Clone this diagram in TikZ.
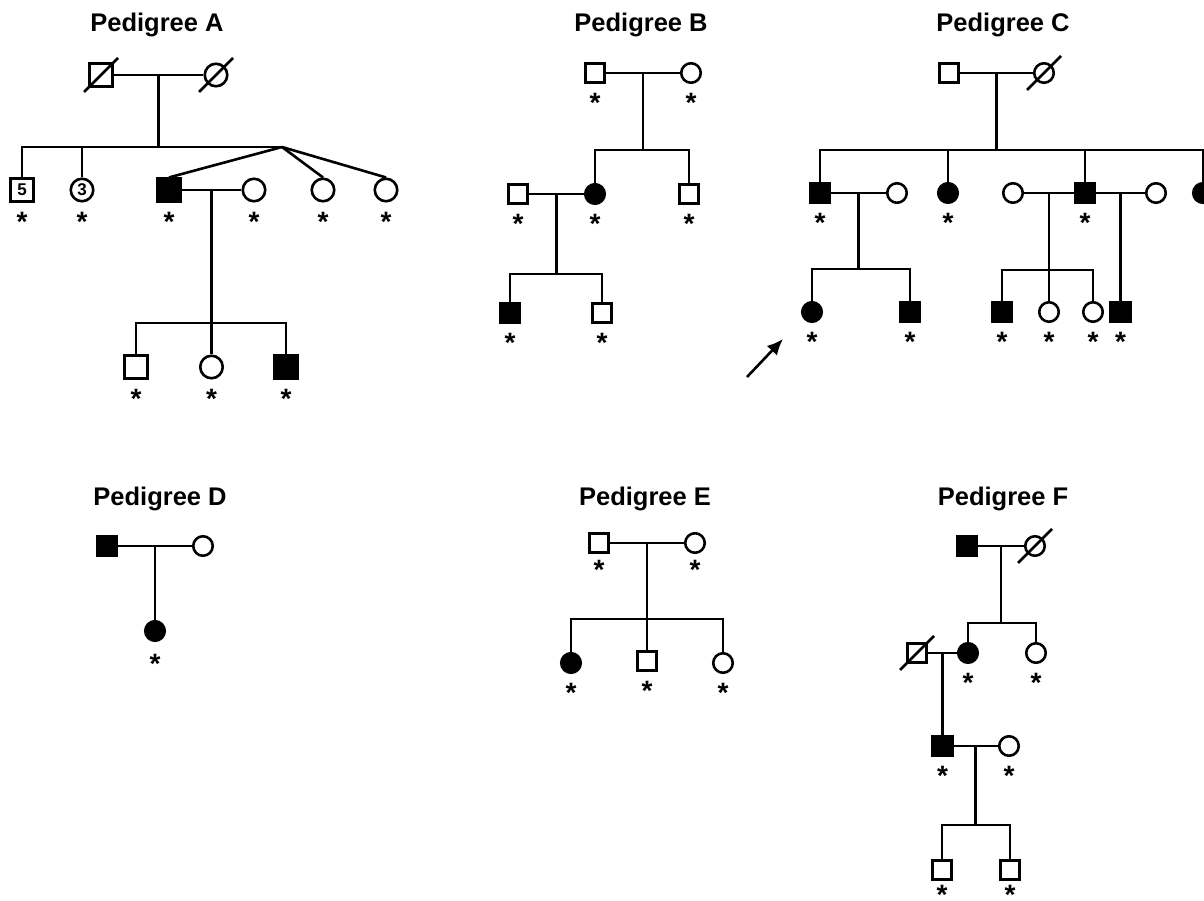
\documentclass[tikz,border=0pt]{standalone}
\usepackage{fontspec}
\setmainfont{Liberation Sans}
\usetikzlibrary{positioning, calc, arrows.meta}

\begin{document}
\begin{tikzpicture}[
    x=1pt, y=-1pt, line width=2.6pt,
    title/.style={anchor=base, font=\bfseries\fontsize{25.5}{30}\selectfont},
    male/.style={rectangle, draw, fill=white, minimum size=19.5pt, inner sep=0pt, font=\bfseries\fontsize{17}{17}\selectfont},
    female/.style={circle, draw, fill=white, minimum size=19.5pt, inner sep=0pt, font=\bfseries\fontsize{17}{17}\selectfont},
    aff/.style={fill=black},
    big/.style={minimum size=22.5pt},
    ast/.style={inner sep=0pt, font=\bfseries\fontsize{28}{28}\selectfont}
    ]
    \useasboundingbox (0,0) rectangle (1204,901);

    \node [title] (t1) at (157,32) {Pedigree A};
    \node [title] (t2) at (641,32) {Pedigree B};
    \node [title] (t3) at (1003,32) {Pedigree C};
    \node [title] (t4) at (160,505) {Pedigree D};
    \node [title] (t5) at (645,505) {Pedigree E};
    \node [title] (t6) at (1003,505) {Pedigree F};

    \node [male, big] (a1) at (101,75) {};
    \node [female, big] (a2) at (216,75) {};
    \node [male, big] (a3) at (22,190) {5};
    \node [female, big] (a4) at (82,190) {3};
    \node [male, big, aff] (a5) at (169,190) {};
    \node [female, big] (a6) at (254,190) {};
    \node [female, big] (a7) at (323,190) {};
    \node [female, big] (a8) at (386,190) {};
    \node [male, big] (a9) at (136,367) {};
    \node [female, big] (a10) at (211.5,367) {};
    \node [male, big, aff] (a11) at (286,367) {};
    \coordinate (tw) at (282,147);
    \coordinate (m1) at ($(a1)!0.5!(a2)$);
    \coordinate (m2) at ($(a5)!0.5!(a6)$);
    \draw (a1) ++(-17,17) -- ++(34,-34);
    \draw (a2) ++(-17,17) -- ++(34,-34);
    \draw (a1) -- (a2);
    \draw (m1) -- (m1 |- tw);
    \draw (a3) |- (tw);
    \draw (a4) -- (a4 |- tw);
    \draw (tw) -- (a5.north);
    \draw (tw) -- (a7.north);
    \draw (tw) -- (a8.north);
    \draw (a5) -- (a6);
    \draw (m2) -- (a10);
    \path (m2) ++(0,133) coordinate (s1);
    \draw (a9) |- (s1) -| (a11);

    \node [male] (b1) at (595,73) {};
    \node [female] (b2) at (691,73) {};
    \node [female, aff] (b3) at (595,194) {};
    \node [male] (b4) at (689,194) {};
    \node [male] (b5) at (518,194) {};
    \node [male, aff] (b6) at (510,313) {};
    \node [male] (b7) at (602,313) {};
    \coordinate (m3) at ($(b1)!0.5!(b2)$);
    \coordinate (m4) at ($(b5)!0.5!(b3)$);
    \draw (b1) -- (b2);
    \draw (m3) -- ++(0,77) coordinate (s2);
    \draw (b3) |- (s2) -| (b4);
    \draw (b5) -- (b3);
    \draw (m4) -- ++(0,80) coordinate (s3);
    \draw (b6) |- (s3) -| (b7);

    \node [male] (c1) at (949,73) {};
    \node [female] (c2) at (1044,73) {};
    \node [male, aff] (c3) at (820,193) {};
    \node [female] (c4) at (897,193) {};
    \node [female, aff] (c5) at (948,193) {};
    \node [female] (c6) at (1013,193) {};
    \node [male, aff] (c7) at (1085,193) {};
    \node [female] (c8) at (1156,193) {};
    \node [female, aff] (c9) at (1203,193) {};
    \node [female, aff] (c10) at (812,312) {};
    \node [male, aff] (c11) at (910,312) {};
    \node [male, aff] (c12) at (1002,312) {};
    \node [female] (c13) at (1049,312) {};
    \node [female] (c14) at (1093,312) {};
    \node [male, aff] (c15) at (1120.5,312) {};
    \coordinate (m5) at ($(c1)!0.5!(c2)$);
    \coordinate (m6) at ($(c3)!0.5!(c4)$);
    \coordinate (m7) at ($(c6)!0.5!(c7)$);
    \coordinate (m8) at ($(c7)!0.5!(c8)$);
    \draw (c2) ++(-17,17) -- ++(34,-34);
    \draw (c1) -- (c2);
    \draw (m5) -- ++(0,77) coordinate (s4);
    \draw (c3) |- (s4) -| (c9);
    \draw (c5) -- (c5 |- s4);
    \draw (c7) -- (c7 |- s4);
    \draw (c3) -- (c4);
    \draw (c6) -- (c7) -- (c8);
    \draw (m6) -- ++(0,76) coordinate (s5);
    \draw (c10) |- (s5) -| (c11);
    \draw (m7) -- ++(0,77) coordinate (s6);
    \draw (c12) |- (s6) -| (c14);
    \draw (s6) -- (c13);
    \draw (m8) -- (c15);
    \coordinate (p1) at (747,377);
    \coordinate (p2) at (783,339);
    \draw [-{Latex[length=16pt,width=14pt]}] (p1) -- (p2);

    \node [male, aff] (d1) at (107,546) {};
    \node [female] (d2) at (203,546) {};
    \node [female, aff] (d3) at (155,631) {};
    \coordinate (m9) at ($(d1)!0.5!(d2)$);
    \draw (d1) -- (d2);
    \draw (m9) -- (d3);

    \node [male] (e1) at (599,543) {};
    \node [female] (e2) at (695,543) {};
    \node [female, aff] (e3) at (571,663) {};
    \node [male] (e4) at (647,661) {};
    \node [female] (e5) at (723,663) {};
    \coordinate (m10) at ($(e1)!0.5!(e2)$);
    \draw (e1) -- (e2);
    \draw (m10) -- ++(0,76) coordinate (s7);
    \draw (e3) |- (s7) -| (e5);
    \draw (s7) -- (e4);

    \node [male, aff] (f1) at (967,546) {};
    \node [female] (f2) at (1035,546) {};
    \node [female, aff] (f3) at (968,653) {};
    \node [female] (f4) at (1036,653) {};
    \node [male] (f5) at (917,653) {};
    \node [male, aff] (f6) at (942.5,746) {};
    \node [female] (f7) at (1009,746) {};
    \node [male] (f8) at (942,870) {};
    \node [male] (f9) at (1010,870) {};
    \coordinate (m11) at ($(f1)!0.5!(f2)$);
    \coordinate (m12) at ($(f5)!0.5!(f3)$);
    \coordinate (m13) at ($(f6)!0.5!(f7)$);
    \draw (f2) ++(-17,17) -- ++(34,-34);
    \draw (f5) ++(-17,17) -- ++(34,-34);
    \draw (f1) -- (f2);
    \draw (m11) -- ++(0,77) coordinate (s8);
    \draw (f3) |- (s8) -| (f4);
    \draw (f5) -- (f3);
    \draw (m12) -- (f6);
    \draw (f6) -- (f7);
    \draw (m13) -- ++(0,79) coordinate (s9);
    \draw (f8) |- (s9) -| (f9);

    \node [ast, below=7pt of a3] (st1) {\raisebox{-0.42em}[0.3em][0pt]{*}};
    \node [ast, below=7pt of a4] (st2) {\raisebox{-0.42em}[0.3em][0pt]{*}};
    \node [ast, below=7pt of a5] (st3) {\raisebox{-0.42em}[0.3em][0pt]{*}};
    \node [ast, below=7pt of a6] (st4) {\raisebox{-0.42em}[0.3em][0pt]{*}};
    \node [ast, below=7pt of a7] (st5) {\raisebox{-0.42em}[0.3em][0pt]{*}};
    \node [ast, below=7pt of a8] (st6) {\raisebox{-0.42em}[0.3em][0pt]{*}};
    \node [ast, below=7pt of a9] (st7) {\raisebox{-0.42em}[0.3em][0pt]{*}};
    \node [ast, below=7pt of a10] (st8) {\raisebox{-0.42em}[0.3em][0pt]{*}};
    \node [ast, below=7pt of a11] (st9) {\raisebox{-0.42em}[0.3em][0pt]{*}};
    \node [ast, below=7pt of b1] (st10) {\raisebox{-0.42em}[0.3em][0pt]{*}};
    \node [ast, below=7pt of b2] (st11) {\raisebox{-0.42em}[0.3em][0pt]{*}};
    \node [ast, below=7pt of b3] (st12) {\raisebox{-0.42em}[0.3em][0pt]{*}};
    \node [ast, below=7pt of b4] (st13) {\raisebox{-0.42em}[0.3em][0pt]{*}};
    \node [ast, below=7pt of b5] (st14) {\raisebox{-0.42em}[0.3em][0pt]{*}};
    \node [ast, below=7pt of b6] (st15) {\raisebox{-0.42em}[0.3em][0pt]{*}};
    \node [ast, below=7pt of b7] (st16) {\raisebox{-0.42em}[0.3em][0pt]{*}};
    \node [ast, below=7pt of c3] (st17) {\raisebox{-0.42em}[0.3em][0pt]{*}};
    \node [ast, below=7pt of c5] (st18) {\raisebox{-0.42em}[0.3em][0pt]{*}};
    \node [ast, below=7pt of c7] (st19) {\raisebox{-0.42em}[0.3em][0pt]{*}};
    \node [ast, below=7pt of c10] (st20) {\raisebox{-0.42em}[0.3em][0pt]{*}};
    \node [ast, below=7pt of c11] (st21) {\raisebox{-0.42em}[0.3em][0pt]{*}};
    \node [ast, below=7pt of c12] (st22) {\raisebox{-0.42em}[0.3em][0pt]{*}};
    \node [ast, below=7pt of c13] (st23) {\raisebox{-0.42em}[0.3em][0pt]{*}};
    \node [ast, below=7pt of c14] (st24) {\raisebox{-0.42em}[0.3em][0pt]{*}};
    \node [ast, below=7pt of c15] (st25) {\raisebox{-0.42em}[0.3em][0pt]{*}};
    \node [ast, below=10pt of d3] (st26) {\raisebox{-0.42em}[0.3em][0pt]{*}};
    \node [ast, below=4pt of e1] (st27) {\raisebox{-0.42em}[0.3em][0pt]{*}};
    \node [ast, below=4pt of e2] (st28) {\raisebox{-0.42em}[0.3em][0pt]{*}};
    \node [ast, below=7pt of e3] (st29) {\raisebox{-0.42em}[0.3em][0pt]{*}};
    \node [ast, below=7pt of e4] (st30) {\raisebox{-0.42em}[0.3em][0pt]{*}};
    \node [ast, below=7pt of e5] (st31) {\raisebox{-0.42em}[0.3em][0pt]{*}};
    \node [ast, below=7pt of f3] (st32) {\raisebox{-0.42em}[0.3em][0pt]{*}};
    \node [ast, below=7pt of f4] (st33) {\raisebox{-0.42em}[0.3em][0pt]{*}};
    \node [ast, below=7pt of f6] (st34) {\raisebox{-0.42em}[0.3em][0pt]{*}};
    \node [ast, below=7pt of f7] (st35) {\raisebox{-0.42em}[0.3em][0pt]{*}};
    \node [ast, below=2pt of f8] (st36) {\raisebox{-0.42em}[0.3em][0pt]{*}};
    \node [ast, below=2pt of f9] (st37) {\raisebox{-0.42em}[0.3em][0pt]{*}};
  \end{tikzpicture}
\end{document}
